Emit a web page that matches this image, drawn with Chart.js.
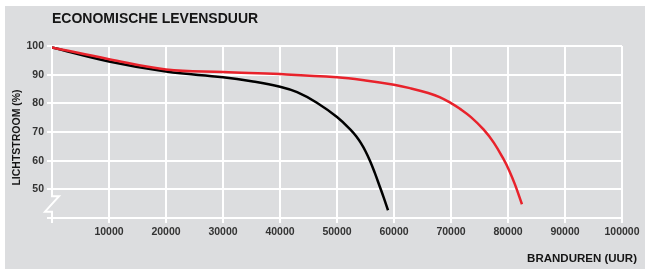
<!DOCTYPE html>
<html>
<head>
<meta charset="utf-8">
<script src="https://cdn.jsdelivr.net/npm/chart.js@4.4.1/dist/chart.umd.min.js"></script>
<style>
  html, body { margin: 0; padding: 0; background: #fff; }
  #panel { position: absolute; left: 5px; top: 6px; width: 640px; height: 263px; background: #dcdddf; }
</style>
</head>
<body>
<div id="panel"><canvas id="chart" width="640" height="263"></canvas></div>
<script>
// burn hours (x) and luminous flux % (y)
const blackHours = [0, 10000, 20000, 30000, 35000, 40000, 43000, 46400, 50000, 52600, 53400, 54200, 55000, 55800, 56600, 57500, 58200, 58950];
const blackFlux  = [99.5, 94.6, 91.1, 89.1, 87.7, 85.8, 83.9, 80.3, 75.2, 70.3, 68.4, 66.1, 63.3, 59.9, 55.9, 51, 47.1, 42.7];

const redHours = [0, 10000, 20000, 30000, 40000, 50000, 55000, 60000, 63000, 66000, 68000, 70000, 71500, 73500, 75700, 77500, 79200, 80200, 81200, 82450];
const redFlux  = [99.5, 95.4, 91.8, 90.9, 90.2, 89.1, 88, 86.5, 85.2, 83.6, 82.2, 80.1, 78.2, 75.2, 70.9, 66.3, 60.6, 56.6, 51.8, 44.8];

const xTicks = [0, 10000, 20000, 30000, 40000, 50000, 60000, 70000, 80000, 90000, 100000];
const yTicks = [40, 50, 60, 70, 80, 90, 100];

const chartTitle = 'ECONOMISCHE LEVENSDUUR';
const yTitle = 'LICHTSTROOM (%)';
const xTitle = 'BRANDUREN (UUR)';

const toPoints = (xs, ys) => xs.map((v, i) => ({ x: v, y: ys[i] }));

// left axis with the zig-zag break between 40 and 50
const axisBreak = {
  id: 'axisBreak',
  beforeDatasetsDraw(chart) {
    const { ctx, chartArea, scales: { x, y } } = chart;
    const x0 = x.getPixelForValue(0);
    const yA = y.getPixelForValue(47.6);
    const yB = y.getPixelForValue(42.2);
    ctx.save();
    ctx.strokeStyle = '#fff';
    ctx.lineWidth = 2;
    ctx.beginPath();
    ctx.moveTo(x0, chartArea.top - 1);
    ctx.lineTo(x0, yA);
    ctx.lineTo(x0 + 7, yA);
    ctx.lineTo(x0 - 7, yB);
    ctx.lineTo(x0, yB);
    ctx.lineTo(x0, chartArea.bottom + 5);
    ctx.stroke();
    ctx.restore();
  }
};

const titles = {
  id: 'titles',
  afterDraw(chart) {
    const ctx = chart.ctx;
    ctx.save();
    ctx.fillStyle = '#151515';
    ctx.textBaseline = 'middle';

    ctx.font = 'bold 14px "Liberation Sans", Arial, sans-serif';
    ctx.textAlign = 'left';
    ctx.fillText(chartTitle, 47, 13);

    ctx.font = 'bold 11.5px "Liberation Sans", Arial, sans-serif';
    ctx.textAlign = 'right';
    ctx.fillText(xTitle, 632, 253);

    ctx.font = 'bold 10.5px "Liberation Sans", Arial, sans-serif';
    ctx.textAlign = 'center';
    ctx.translate(12, 131.5);
    ctx.rotate(-Math.PI / 2);
    ctx.fillText(yTitle, 0, 0);
    ctx.restore();
  }
};

const tickFont = { family: '"Liberation Sans", Arial, sans-serif', size: 10.5, weight: 'bold' };

new Chart(document.getElementById('chart'), {
  type: 'line',
  data: {
    datasets: [
      {
        data: toPoints(redHours, redFlux),
        borderColor: '#e8222b',
        borderWidth: 2.5,
        pointRadius: 0,
        tension: 0.4
      },
      {
        data: toPoints(blackHours, blackFlux),
        borderColor: '#000',
        borderWidth: 2.5,
        pointRadius: 0,
        tension: 0.4
      }
    ]
  },
  options: {
    responsive: false,
    animation: false,
    layout: { padding: { top: 40, right: 23, bottom: 0, left: 0 } },
    plugins: { legend: { display: false }, tooltip: { enabled: false } },
    scales: {
      x: {
        type: 'linear',
        min: 0,
        max: 100000,
        afterFit: s => { s.height = 51; },
        afterBuildTicks: s => { s.ticks = xTicks.map(v => ({ value: v })); },
        border: { display: false },
        grid: {
          color: c => (c.tick && c.tick.value === 0 ? 'rgba(0,0,0,0)' : '#fff'),
          lineWidth: 2,
          tickLength: 5
        },
        ticks: {
          padding: 3,
          color: '#333',
          font: tickFont,
          maxRotation: 0,
          callback: v => (v === 0 ? '' : String(v))
        }
      },
      y: {
        min: 40,
        max: 100,
        afterFit: s => { s.width = 47; },
        afterBuildTicks: s => { s.ticks = yTicks.map(v => ({ value: v })); },
        border: { display: false },
        grid: { color: '#fff', lineWidth: 2, tickLength: 5 },
        ticks: {
          padding: 3,
          color: '#333',
          font: tickFont,
          callback: v => (v === 40 ? '' : String(v))
        }
      }
    }
  },
  plugins: [axisBreak, titles]
});
</script>
</body>
</html>
